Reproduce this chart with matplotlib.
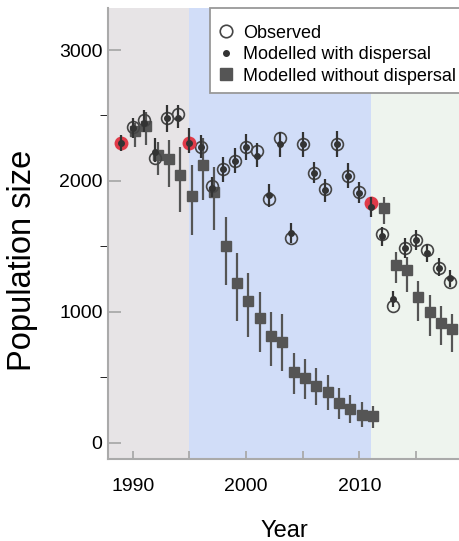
import matplotlib
matplotlib.use("Agg")
import matplotlib.pyplot as plt
from matplotlib.lines import Line2D
from matplotlib.patches import Rectangle
import numpy as np

plt.rcParams['font.family'] = ['Liberation Sans', 'DejaVu Sans']

years = list(range(1989, 2019))
observed = [2292, 2415, 2466, 2173, 2478, 2509, 2292, 2257, 1962, 2092,
            2155, 2257, 2231, 1860, 2326, 1567, 2280, 2063, 1936, 2282,
            2041, 1918, 1830, 1595, 1046, 1486, 1550, 1473, 1333, 1231]
start_years = [1989, 1995, 2011]

disp_mean = [2292, 2402, 2445, 2224, 2478, 2483, 2292, 2257, 1949, 2092,
             2155, 2257, 2193, 1893, 2282, 1605, 2280, 2063, 1930, 2282,
             2041, 1906, 1804, 1580, 1097, 1486, 1550, 1448, 1333, 1257]
disp_lo = [2232, 2326, 2376, 2147, 2376, 2404, 2211, 2173, 1880, 1995,
           2059, 2160, 2109, 1804, 2186, 1524, 2186, 1982, 1842, 2186,
           1949, 1830, 1727, 1504, 1036, 1410, 1473, 1384, 1275, 1193]
disp_hi = [2351, 2478, 2542, 2326, 2580, 2580, 2402, 2351, 2033, 2186,
           2250, 2356, 2288, 1977, 2376, 1682, 2376, 2147, 2015, 2382,
           2135, 1990, 1880, 1651, 1163, 1562, 1626, 1519, 1410, 1321]

nod_years = list(range(1990, 2019))
nod_mean = [2382, 2420, 2198, 2165, 2046, 1888, 2122, 1918, 1504, 1219,
            1086, 952, 819, 769, 542, 494, 433, 387, 303, 260,
            214, 201, 1791, 1359, 1316, 1112, 1002, 918, 868]
nod_lo = [2260, 2275, 2046, 1957, 1766, 1588, 1855, 1626, 1206, 931,
          811, 692, 590, 545, 374, 334, 285, 247, 181, 150,
          120, 112, 1672, 1219, 1155, 934, 819, 748, 697]
nod_hi = [2443, 2529, 2300, 2313, 2262, 2122, 2328, 2109, 1727, 1448,
          1300, 1155, 1002, 985, 685, 639, 570, 519, 418, 364,
          308, 282, 1875, 1460, 1417, 1239, 1130, 1046, 985]

period_edges = [1987.82, 1995, 2011, 2018.89]
period_colors = ['#e7e4e6', '#d1ddf8', '#eef4ee']

mc = '#454545'
red = '#e03a48'

fig = plt.figure(figsize=(4.6, 5.41), dpi=100)
ax = fig.add_axes([0.235, 0.152, 0.765, 0.833])

for i, c in enumerate(period_colors):
    ax.axvspan(period_edges[i], period_edges[i + 1], color=c, lw=0, zorder=0)

# without dispersal (squares, dodged)
nx = np.array(nod_years) + 0.2
nm = np.array(nod_mean)
ax.errorbar(nx, nm, yerr=[nm - np.array(nod_lo), np.array(nod_hi) - nm],
            fmt='s', ms=7, color='#555555', mec='#555555', ecolor='#555555',
            elinewidth=1.6, capsize=0, zorder=3)

# observed
obs = np.array(observed)
yrs = np.array(years)
is_start = np.isin(yrs, start_years)
ax.plot(yrs[~is_start], obs[~is_start], 'o', ms=8.5, mfc='none', mec=mc,
        mew=1.2, zorder=4)
ax.plot(yrs[is_start], obs[is_start], 'o', ms=10, mfc=red, mec=red,
        mew=0, zorder=4)

# with dispersal
dm = np.array(disp_mean)
ax.errorbar(yrs, dm, yerr=[dm - np.array(disp_lo), np.array(disp_hi) - dm],
            fmt='o', ms=4, color='#333333', ecolor='#333333',
            elinewidth=1.6, capsize=0, zorder=5)

ax.set_xlim(period_edges[0], period_edges[-1])
ax.set_ylim(-122, 3320)
ax.set_xticks([1990, 1995, 2000, 2005, 2010, 2015])
ax.set_xticklabels(['1990', '', '2000', '', '2010', ''])
ax.set_yticks([0, 1000, 2000, 3000])
ax.set_yticks([500, 1500, 2500], minor=True)
ax.tick_params(axis='both', direction='in', colors='#aaaaaa',
               labelcolor='black', labelsize=14, width=1.3)
ax.tick_params(axis='x', length=6, pad=14)
ax.tick_params(axis='y', which='major', length=9, pad=4)
ax.tick_params(axis='y', which='minor', length=6)

for s in ['top', 'right']:
    ax.spines[s].set_visible(False)
for s in ['left', 'bottom']:
    ax.spines[s].set_color('#aaaaaa')
    ax.spines[s].set_linewidth(1.5)

ax.set_xlabel('Year', fontsize=17, labelpad=18)
ax.set_ylabel('Population size', fontsize=23.5)
ax.yaxis.set_label_coords(-0.2, 0.44)

# legend box
ax.add_patch(Rectangle((0.29, 0.8115), 0.71, 0.1885, transform=ax.transAxes,
                       fc='white', ec='#999999', lw=1.3, zorder=9,
                       clip_on=False))
handles = [
    Line2D([], [], ls='none', marker='o', ms=9, mfc='none', mec=mc, mew=1.2),
    Line2D([], [], ls='none', marker='o', ms=4, color='#333333'),
    Line2D([], [], ls='none', marker='s', ms=8, color='#555555'),
]
labels = ['Observed', 'Modelled with dispersal', 'Modelled without dispersal']
leg = ax.legend(handles, labels, loc='upper left',
                bbox_to_anchor=(0.315, 0.963), borderaxespad=0,
                fontsize=13, frameon=False,
                handlelength=0.8, handletextpad=0.55, labelspacing=0.25,
                borderpad=0)
leg.set_zorder(10)

fig.savefig('out.png', dpi=100)
